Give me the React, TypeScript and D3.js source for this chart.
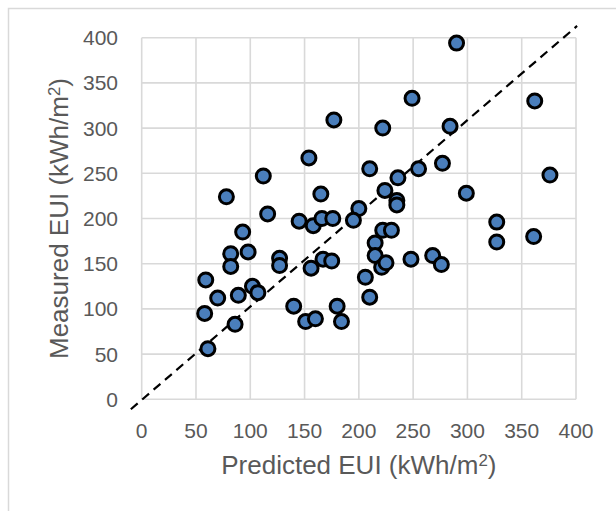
import React, { useRef, useEffect } from "react";
import * as d3 from "d3";

// Predicted vs measured EUI, one entry per building (kWh/m2)
const predicted = [
  290, 249, 362, 177, 222, 284, 154, 112, 210, 255, 277, 376, 236, 78, 165,
  224, 299, 235, 235, 116, 200, 145, 158, 166, 176, 195, 93, 222, 230, 327,
  361, 327, 215, 215, 82, 98, 127, 127, 82, 156, 167, 175, 221, 225, 248, 268,
  276, 59, 206, 102, 107, 70, 89, 210, 140, 180, 58, 151, 160, 184, 86, 61,
];
const measured = [
  394, 333, 330, 309, 300, 302, 267, 247, 255, 255, 261, 248, 245, 224, 227,
  231, 228, 220, 215, 205, 211, 197, 192, 200, 200, 198, 185, 187, 187, 196,
  180, 174, 173, 159, 161, 163, 156, 148, 147, 145, 155, 153, 146, 151, 155,
  159, 149, 132, 135, 125, 118, 112, 115, 113, 103, 103, 95, 86, 89, 86, 83,
  56,
];
const xTicks = [0, 50, 100, 150, 200, 250, 300, 350, 400];
const yTicks = [0, 50, 100, 150, 200, 250, 300, 350, 400];
// 1:1 reference line, as drawn (runs a little past the axes)
const diagonal: [number, number][] = [
  [-10, -11],
  [401, 413],
];

const grey = "#d9d9d9";
const textColor = "#595959";
const font = "'Liberation Sans', Arial, sans-serif";

const App = () => {
  const ref = useRef<SVGSVGElement>(null);
  const width = 616,
    height = 511;

  useEffect(() => {
    const svg = d3.select(ref.current);
    svg.selectChildren().remove();

    const x = d3.scaleLinear().domain([0, 400]).range([141.7, 576]);
    const y = d3.scaleLinear().domain([0, 400]).range([399.3, 37.7]);

    // Marco del gráfico
    svg
      .append("rect")
      .attr("x", 8.5)
      .attr("y", 8.5)
      .attr("width", 700)
      .attr("height", 600)
      .attr("fill", "white")
      .attr("stroke", grey)
      .attr("stroke-width", 1.5);

    // Rejilla
    const grid = svg.append("g").attr("stroke", grey).attr("stroke-width", 1.6);
    grid
      .selectAll("line.v")
      .data(xTicks)
      .enter()
      .append("line")
      .attr("x1", (d) => x(d))
      .attr("x2", (d) => x(d))
      .attr("y1", y(0))
      .attr("y2", y(400));
    grid
      .selectAll("line.h")
      .data(yTicks)
      .enter()
      .append("line")
      .attr("x1", x(0))
      .attr("x2", x(400))
      .attr("y1", (d) => y(d))
      .attr("y2", (d) => y(d));

    // Etiquetas de los ejes
    const labels = svg
      .append("g")
      .style("font-family", font)
      .style("font-size", "21px")
      .attr("fill", textColor);
    labels
      .selectAll("text.y")
      .data(yTicks)
      .enter()
      .append("text")
      .attr("x", 118)
      .attr("y", (d) => y(d))
      .attr("dy", "0.36em")
      .attr("text-anchor", "end")
      .text((d) => d);
    labels
      .selectAll("text.x")
      .data(xTicks)
      .enter()
      .append("text")
      .attr("x", (d) => x(d))
      .attr("y", 438)
      .attr("text-anchor", "middle")
      .text((d) => d);

    // Títulos
    const title = (g, label) => {
      g.append("tspan").text(`${label} (kWh/m`);
      g.append("tspan").attr("dy", "-0.45em").style("font-size", "0.65em").text("2");
      g.append("tspan").attr("dy", "0.29em").text(")");
    };
    const xt = svg
      .append("text")
      .attr("x", (x(0) + x(400)) / 2)
      .attr("y", 474)
      .attr("text-anchor", "middle")
      .style("font-family", font)
      .style("font-size", "26px")
      .attr("fill", textColor);
    title(xt, "Predicted EUI");
    const yt = svg
      .append("text")
      .attr("transform", `translate(68, ${(y(0) + y(400)) / 2}) rotate(-90)`)
      .attr("text-anchor", "middle")
      .style("font-family", font)
      .style("font-size", "26px")
      .attr("fill", textColor);
    title(yt, "Measured EUI");

    // Línea 1:1
    svg
      .append("path")
      .datum(diagonal)
      .attr(
        "d",
        d3
          .line<[number, number]>()
          .x((d) => x(d[0]))
          .y((d) => y(d[1]))
      )
      .attr("fill", "none")
      .attr("stroke", "black")
      .attr("stroke-width", 2.2)
      .attr("stroke-dasharray", "9,6");

    // Puntos
    svg
      .append("g")
      .selectAll("circle")
      .data(predicted.map((p, i) => [p, measured[i]]))
      .enter()
      .append("circle")
      .attr("cx", (d) => x(d[0]))
      .attr("cy", (d) => y(d[1]))
      .attr("r", 7)
      .attr("fill", "#4a7ebb")
      .attr("stroke", "black")
      .attr("stroke-width", 3);
  }, []);

  return (
    <svg
      ref={ref}
      width={width}
      height={height}
      style={{ position: "absolute", left: 0, top: 0 }}
    />
  );
};

export default App;
